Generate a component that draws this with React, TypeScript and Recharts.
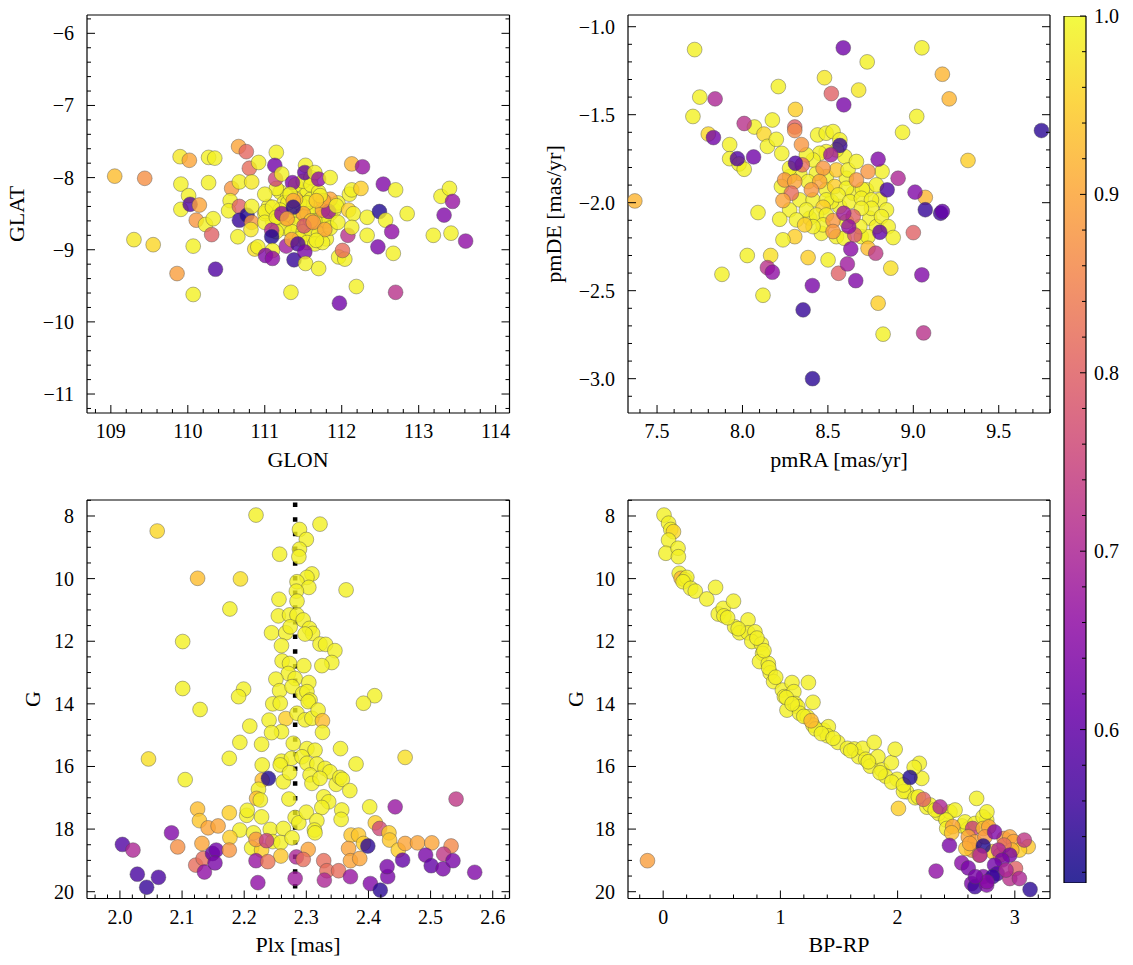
import React from 'react';
import { ScatterChart, Scatter, XAxis, YAxis, ReferenceLine, ComposedChart, Bar } from 'recharts';

const W = 1133;
const H = 965;
const FONT = '"Liberation Serif", "DejaVu Serif", "Times New Roman", serif';
const FS = 20;
const FS_TITLE = 22;

type Pt = [number, number, number];

// ---------- data: [x, y, membership probability] ----------
const glonGlat: Pt[] = [
  [111.2,-8.2,0.99],[111.3,-8.25,0.99],[111.45,-8.2,0.99],[111.55,-8.18,0.99],[111.6,-8.3,0.99],[111.7,-8.4,0.97],[111.8,-8.35,0.99],[111.85,-8.5,0.99],[111.25,-8.35,0.99],[111.35,-8.45,0.99],[111.5,-8.4,0.97],[111.45,-8.55,0.99],[111.55,-8.5,0.99],[111.65,-8.5,0.99],[111.75,-8.55,0.97],[111.2,-8.55,0.99],[111.3,-8.6,0.99],[111.4,-8.65,0.99],[111.55,-8.65,0.99],[111.7,-8.65,0.99],[111.8,-8.6,0.99],[111.25,-8.7,0.99],[111.35,-8.75,0.99],[111.5,-8.75,0.99],[111.6,-8.8,0.99],[111.7,-8.78,0.99],[111.8,-8.85,0.99],[111.45,-8.85,0.99],[111.55,-8.9,0.99],[111.65,-8.92,0.99],[111.75,-8.9,0.99],[111.4,-8.1,0.99],[111.5,-8.05,0.99],[111.6,-8.0,0.99],[111.15,-8.15,0.99],[111.05,-8.4,0.99],[111.1,-8.6,0.99],[111.15,-8.75,0.99],[111.9,-8.45,0.99],[111.95,-8.35,0.99],[111.6,-8.1,0.99],[111.7,-8.2,0.99],[111.45,-8.35,0.99],[111.3,-8.35,0.99],[111.65,-8.6,0.99],[111.85,-8.7,0.99],[111.55,-8.35,0.99],[111.2,-8.45,0.99],[111.0,-8.5,0.99],
  [111.75,-8.45,0.9],[111.85,-8.3,0.9],[111.5,-8.5,0.9],[111.6,-8.6,0.94],[111.4,-8.3,0.94],
  [109.05,-7.98,0.93],[109.44,-8.01,0.87],[109.30,-8.86,0.98],[109.55,-8.93,0.96],[109.86,-9.33,0.89],[109.90,-7.71,0.98],[110.02,-7.76,0.9],[109.91,-8.09,0.99],[110.01,-8.25,0.99],[109.91,-8.44,0.99],[110.03,-8.37,0.58],[110.15,-8.38,0.9],[110.11,-8.59,0.88],[110.27,-7.72,0.99],[110.35,-7.73,0.99],[110.27,-8.07,0.99],[110.23,-8.65,0.99],[110.33,-8.57,0.99],[110.31,-8.79,0.8],[110.07,-8.95,0.99],[110.36,-9.27,0.58],[110.07,-9.62,0.99],
  [110.66,-7.57,0.9],[110.76,-7.64,0.81],[110.80,-7.87,0.82],[110.92,-7.79,0.99],[110.57,-8.15,0.88],[110.67,-8.06,0.99],[110.83,-8.06,0.98],[110.55,-8.32,0.99],[110.53,-8.46,0.99],[110.67,-8.40,0.8],[110.67,-8.59,0.55],[110.77,-8.52,0.53],[110.83,-8.40,0.99],[110.83,-8.62,0.88],[110.82,-8.72,0.98],[110.65,-8.82,0.99],[110.87,-8.99,0.97],[110.91,-8.96,0.99],
  [111.15,-7.65,0.99],[111.13,-7.83,0.62],[111.14,-8.02,0.75],[111.22,-7.95,0.99],[111.00,-8.23,0.99],[111.01,-8.47,0.99],[111.10,-8.41,0.99],[111.00,-8.62,0.99],[111.15,-8.55,0.99],[111.09,-8.73,0.7],[111.09,-8.82,0.53],[111.10,-9.01,0.99],[111.01,-9.08,0.64],[111.10,-9.12,0.66],[111.22,-8.50,0.66],[111.28,-8.95,0.68],[111.35,-8.86,0.9],[111.36,-8.07,0.63],[111.33,-8.23,0.99],[111.37,-8.32,0.9],[111.37,-8.41,0.54],[111.29,-8.57,0.9],[111.43,-8.92,0.57],[111.38,-9.14,0.55],[111.34,-9.59,0.99],
  [111.53,-7.83,0.99],[111.52,-7.93,0.6],[111.65,-7.93,0.99],[111.70,-8.02,0.66],[111.51,-8.67,0.78],[111.63,-8.62,0.88],[111.52,-9.03,0.63],[111.53,-9.19,0.99],[111.70,-9.26,0.99],[111.83,-8.47,0.67],[111.85,-8.00,0.99],[111.76,-8.32,0.9],[111.72,-8.25,0.99],[111.78,-8.72,0.9],[111.67,-8.87,0.99],[111.67,-8.32,0.94],[111.93,-8.39,0.99],[111.95,-8.62,0.99],[112.08,-8.80,0.72],[111.96,-9.10,0.99],[112.04,-9.13,0.99],[112.01,-9.01,0.82],[111.97,-9.74,0.62],
  [112.13,-7.81,0.92],[112.27,-7.85,0.67],[112.10,-8.23,0.99],[112.13,-8.17,0.99],[112.09,-8.45,0.95],[112.15,-8.50,0.99],[112.13,-8.69,0.99],[112.25,-8.15,0.95],[112.19,-9.51,0.99],[112.33,-8.55,0.99],[112.33,-8.80,0.99],[112.49,-8.47,0.53],[112.47,-8.96,0.63],[112.54,-8.09,0.64],[112.57,-8.59,0.99],[112.65,-8.75,0.66],[112.70,-8.17,0.99],[112.67,-9.05,0.99],[112.70,-9.59,0.72],[112.85,-8.50,0.99],[113.19,-8.80,0.99],[113.29,-8.26,0.99],[113.40,-8.15,0.99],[113.33,-8.52,0.64],[113.42,-8.77,0.99],[113.44,-8.33,0.67],[113.61,-8.88,0.66],
];

const pmRaDe: Pt[] = [
  [8.335,-1.833,0.99],[8.608,-1.861,0.99],[8.491,-1.852,0.99],[8.433,-1.833,0.99],[8.276,-1.852,0.99],[8.726,-1.927,0.99],[8.648,-1.946,0.99],[8.804,-1.984,0.99],[8.843,-2.041,0.99],[8.569,-2.022,0.99],[8.521,-1.994,0.99],[8.394,-2.088,0.99],[8.276,-2.041,0.99],[8.745,-2.088,0.99],[8.784,-2.136,0.99],[8.55,-2.193,0.99],[8.462,-2.174,0.99],[8.696,-2.193,0.99],
  [7.71,-1.51,0.99],[7.80,-1.61,0.96],[7.925,-1.67,0.99],[7.925,-1.75,0.99],[7.98,-1.78,0.99],[8.01,-1.81,0.99],[8.07,-1.57,0.99],[8.126,-1.61,0.96],[8.146,-1.68,0.99],[8.175,-1.53,0.99],[8.198,-1.64,0.99],[8.23,-1.72,0.99],[8.31,-1.47,0.95],
  [8.44,-1.615,0.99],[8.49,-1.605,0.99],[8.53,-1.596,0.99],[8.57,-1.643,0.99],[8.599,-1.738,0.99],[8.55,-1.70,0.99],[8.49,-1.71,0.99],[8.452,-1.719,0.99],[8.413,-1.757,0.99],[8.374,-1.728,0.99],[8.276,-1.804,0.99],[8.55,-1.814,0.94],[8.618,-1.814,0.99],[8.667,-1.766,0.99],[8.817,-1.823,0.99],[8.384,-1.88,0.99],[8.702,-1.924,0.99],[8.784,-1.899,0.99],[8.228,-1.908,0.99],[8.335,-1.984,0.99],[8.491,-1.927,0.99],[8.54,-1.908,0.95],[8.608,-1.918,0.99],[8.413,-1.984,0.99],[8.491,-1.984,0.99],[8.56,-1.956,0.99],[8.628,-1.994,0.99],[8.696,-1.975,0.99],[8.755,-1.984,0.99],[8.755,-2.032,0.99],[8.696,-2.032,0.99],[8.472,-2.026,0.95],[8.374,-2.041,0.99],[8.316,-2.098,0.99],[8.218,-2.094,0.99],[8.091,-2.056,0.99],[8.433,-2.07,0.99],[8.491,-2.07,0.99],[8.608,-2.107,0.99],[8.814,-2.079,0.99],[8.853,-2.136,0.99],[8.882,-2.198,0.99],[8.735,-2.193,0.99],[8.472,-2.126,0.99],[8.413,-2.136,0.99],[8.364,-2.126,0.95],[8.306,-2.193,0.95],[8.237,-2.211,0.99],[8.595,-2.202,0.99],[8.687,-2.136,0.99],[8.735,-2.259,0.93],[8.868,-2.372,0.97],[8.028,-2.30,0.99],[8.165,-2.30,0.97],[7.88,-2.407,0.99],[8.384,-2.312,0.95],[8.501,-2.325,0.99],[8.12,-2.526,0.99],[8.794,-2.571,0.95],[8.823,-2.747,0.99],[8.937,-1.60,0.99],
  [7.72,-1.13,0.99],[7.75,-1.40,0.99],[8.21,-1.34,0.99],[8.48,-1.29,0.98],[8.68,-1.36,0.98],[8.73,-1.20,0.99],[9.05,-1.12,0.99],[9.17,-1.27,0.92],[9.21,-1.41,0.92],[7.37,-1.99,0.92],[9.32,-1.76,0.95],[9.07,-1.97,0.92],[9.02,-1.51,0.99],
  [8.306,-1.57,0.8],[8.306,-1.59,0.86],[8.345,-1.67,0.88],[8.35,-1.785,0.82],[8.472,-1.804,0.88],[8.735,-1.823,0.88],[8.247,-1.871,0.88],[8.306,-1.88,0.9],[8.452,-1.88,0.9],[8.667,-1.871,0.88],[8.286,-1.946,0.82],[8.237,-1.988,0.9],[8.403,-1.927,0.88],[8.648,-2.079,0.8],[8.53,-2.102,0.88],[8.657,-2.183,0.78],[8.53,-2.164,0.88],[8.562,-2.401,0.8],
  [7.84,-1.41,0.7],[7.83,-1.63,0.62],[7.97,-1.75,0.58],[8.01,-1.55,0.72],[8.065,-1.74,0.62],[8.31,-1.776,0.58],[8.57,-1.675,0.55],[8.517,-1.728,0.68],[8.794,-1.753,0.64],[8.911,-1.861,0.7],[8.847,-1.927,0.57],[8.593,-2.06,0.68],[8.804,-2.168,0.6],[8.622,-2.136,0.66],[8.634,-2.263,0.65],[8.78,-2.287,0.73],[8.146,-2.369,0.72],[8.175,-2.395,0.66],[8.614,-2.348,0.68],[8.663,-2.443,0.64],[8.409,-2.471,0.63],[8.355,-2.609,0.55],
  [8.52,-1.38,0.8],[8.59,-1.12,0.62],[8.593,-1.444,0.63],[9.75,-1.59,0.54],[8.41,-3.00,0.54],[9.16,-2.06,0.56],[9.17,-2.05,0.6],[9.07,-2.04,0.55],[9.05,-2.41,0.64],[9.06,-2.74,0.72],[9.01,-1.94,0.64],[9.00,-2.17,0.8],
];

const plxG: Pt[] = [
  [2.060,8.48,0.96],[2.219,7.97,0.99],[2.289,8.43,0.99],[2.322,8.26,0.99],[2.300,8.75,0.99],[2.289,9.06,0.99],[2.257,9.22,0.99],[2.288,9.30,0.99],[2.125,9.99,0.93],[2.194,10.01,0.97],[2.309,9.85,0.99],[2.301,9.96,0.99],[2.285,10.10,0.99],[2.304,10.28,0.99],[2.284,10.40,0.99],[2.364,10.36,0.99],[2.256,10.66,0.99],[2.285,10.72,0.99],[2.177,10.97,0.99],[2.255,11.19,0.99],[2.273,11.16,0.99],[2.285,11.16,0.99],[2.295,11.32,0.99],[2.305,11.59,0.99],[2.310,11.75,0.99],[2.298,11.77,0.99],[2.244,11.73,0.99],[2.267,11.73,0.99],[2.274,11.54,0.99],[2.101,12.01,0.99],[2.260,12.14,0.99],[2.322,12.09,0.99],[2.331,12.10,0.99],[2.346,12.30,0.99],[2.341,12.68,0.99],[2.325,12.78,0.99],[2.261,12.63,0.99],[2.273,12.71,0.99],[2.296,12.78,0.99],[2.271,13.03,0.99],[2.251,13.21,0.99],[2.282,13.19,0.99],[2.304,13.32,0.99],[2.101,13.51,0.99],[2.199,13.53,0.99],[2.191,13.77,0.99],[2.257,13.58,0.99],[2.277,13.45,0.99],[2.294,13.67,0.99],[2.301,13.61,0.99],[2.306,13.88,0.99],[2.410,13.74,0.99],
  [2.246,14.00,0.99],[2.258,13.98,0.99],[2.303,13.93,0.99],[2.392,13.98,0.99],[2.129,14.18,0.99],[2.209,14.71,0.99],[2.240,14.52,0.99],[2.267,14.47,0.95],[2.285,14.30,0.99],[2.298,14.51,0.99],[2.309,14.46,0.99],[2.319,14.20,0.99],[2.326,14.54,0.93],[2.326,14.91,0.99],[2.260,14.89,0.99],[2.244,14.92,0.99],[2.279,15.26,0.99],[2.193,15.23,0.99],[2.228,15.29,0.99],[2.301,15.43,0.99],[2.314,15.48,0.99],[2.355,15.43,0.99],[2.260,15.83,0.99],[2.276,15.74,0.99],[2.293,15.69,0.99],[2.046,15.76,0.97],[2.176,15.74,0.99],[2.229,15.95,0.99],[2.301,15.90,0.99],[2.317,15.92,0.99],[2.330,16.06,0.99],[2.338,16.17,0.99],[2.380,15.92,0.99],[2.459,15.71,0.97],[2.105,16.42,0.99],[2.229,16.43,0.93],[2.258,15.95,0.99],[2.263,16.49,0.99],[2.273,16.20,0.99],[2.306,16.27,0.99],[2.309,16.54,0.99],[2.322,16.38,0.99],[2.348,16.57,0.99],[2.354,16.35,0.99],[2.358,16.41,0.99],[2.370,16.77,0.99],[2.223,16.73,0.99],[2.220,17.02,0.93],[2.226,17.07,0.99],[2.272,17.04,0.99],[2.328,16.97,0.99],[2.336,17.13,0.99],[2.325,17.31,0.99],[2.357,17.39,0.99],[2.402,17.29,0.99],[2.282,17.63,0.99],[2.288,17.80,0.99],[2.300,17.46,0.99],[2.317,17.73,0.99],[2.356,17.69,0.99],[2.228,17.61,0.99],[2.204,17.56,0.99],[2.205,17.40,0.99],[2.176,17.48,0.95],[2.125,17.36,0.93],[2.128,17.73,0.94],[2.193,18.03,0.99],[2.215,18.12,0.99],[2.242,18.01,0.99],[2.263,17.98,0.99],[2.246,18.40,0.99],[2.259,18.43,0.99],[2.277,18.28,0.99],[2.212,18.60,0.99],[2.228,18.67,0.95],[2.259,18.86,0.94],[2.313,18.03,0.99],[2.314,18.12,0.99],
  [2.239,16.38,0.53],[2.142,17.96,0.9],[2.158,17.90,0.9],[2.177,18.27,0.95],[2.219,18.33,0.88],[2.236,18.37,0.74],[2.303,18.65,0.9],[2.372,18.19,0.94],[2.384,18.19,0.94],[2.392,18.46,0.95],[2.411,17.80,0.95],[2.418,17.98,0.76],[2.433,18.12,0.95],[2.434,18.35,0.94],[2.443,17.29,0.67],[2.448,18.67,0.95],[2.459,18.46,0.9],[2.479,18.44,0.9],[2.502,18.44,0.9],[2.533,18.54,0.86],[2.541,17.04,0.73],[2.368,18.62,0.9],[2.371,19.01,0.9],[2.386,18.94,0.9],[2.399,18.54,0.54],
  [2.004,18.49,0.58],[2.021,18.67,0.7],[2.028,19.44,0.57],[2.062,19.54,0.57],[2.043,19.86,0.55],[2.083,18.12,0.64],[2.093,18.57,0.87],[2.122,19.15,0.82],[2.134,18.94,0.82],[2.136,19.37,0.66],[2.149,18.78,0.6],[2.155,18.67,0.62],[2.153,19.08,0.63],[2.176,18.67,0.88],[2.132,18.46,0.9],[2.219,19.01,0.67],[2.222,19.71,0.66],[2.238,19.04,0.83],[2.284,18.89,0.7],[2.295,18.97,0.82],[2.282,19.58,0.68],[2.328,19.01,0.82],[2.333,19.33,0.82],[2.352,19.33,0.82],[2.329,19.63,0.7],[2.371,19.52,0.67],[2.403,19.74,0.64],[2.419,19.95,0.54],[2.431,19.52,0.63],[2.430,19.20,0.63],[2.455,18.99,0.6],[2.492,18.83,0.63],[2.501,19.17,0.6],[2.521,18.80,0.73],[2.520,19.27,0.63],[2.536,19.01,0.63],[2.571,19.38,0.64],
];

const colorG: Pt[] = [
  [0.007,7.97,0.99],[0.046,8.23,0.99],[0.065,8.43,0.99],[0.088,8.50,0.96],[0.046,8.77,0.99],[0.023,9.19,0.99],[0.127,9.03,0.99],[0.130,9.30,0.99],[0.137,9.83,0.99],[0.153,9.99,0.92],[0.186,10.04,0.99],[0.202,9.96,0.99],[0.170,10.10,0.99],[0.235,10.31,0.99],[0.274,10.40,0.99],[0.372,10.65,0.99],[0.447,10.28,0.99],[0.470,11.13,0.99],[0.512,10.95,0.99],[0.518,11.19,0.99],[0.600,10.72,0.99],[0.610,11.54,0.99],[0.652,11.73,0.99],[0.724,11.32,0.99],[0.724,11.73,0.99],[0.783,11.70,0.99],[0.756,12.01,0.99],[0.838,12.09,0.99],[0.848,12.39,0.99],[0.822,12.65,0.99],[0.897,12.71,0.99],[0.913,13.01,0.99],[0.942,13.29,0.99],[1.017,13.56,0.99],[1.034,13.77,0.99],[1.056,14.20,0.99],[1.099,13.32,0.99],[1.115,13.61,0.99],[1.125,13.99,0.99],[1.148,14.09,0.99],[1.164,14.30,0.99],[1.239,13.32,0.99],[1.278,13.95,0.99],[1.229,14.41,0.99],[1.278,14.68,0.99],[1.369,14.84,0.99],[1.409,14.73,0.99],[1.402,15.02,0.99],[1.490,15.23,0.99],[1.572,15.42,0.99],[1.630,15.44,0.99],[1.669,15.69,0.99],[1.702,15.42,0.99],[1.728,15.77,0.99],[1.767,15.99,0.99],[1.800,15.23,0.99],[1.832,15.69,0.99],[1.865,16.11,0.99],[1.898,16.31,0.99],[1.947,15.88,0.99],[1.979,15.45,0.99],[1.995,16.41,0.99],[2.077,16.81,0.99],[2.185,15.90,0.99],[2.403,17.61,0.99],
  [0.55,11.25,0.99],[0.64,11.6,0.99],[0.8,11.9,0.99],[0.86,12.3,0.99],[0.9,12.85,0.99],[0.96,13.15,0.99],[1.05,13.8,0.99],[1.1,14.0,0.99],[1.2,14.4,0.99],[1.3,14.8,0.99],[1.35,14.95,0.99],[1.45,15.1,0.99],[1.6,15.5,0.99],[1.75,15.85,0.99],[1.85,16.2,0.99],[1.95,16.5,0.99],[2.05,16.8,0.99],[2.15,17.0,0.99],[2.25,17.3,0.99],[2.35,17.5,0.99],[2.55,17.9,0.99],[2.6,18.0,0.99],
  [1.262,14.54,0.92],
  [2.206,16.38,0.99],[2.141,16.03,0.99],[2.050,16.59,0.99],[2.007,17.34,0.95],[2.177,16.97,0.99],[2.277,17.23,0.99],[2.32,17.39,0.99],[2.447,17.45,0.99],[2.49,17.39,0.99],[2.413,17.71,0.99],[2.575,17.77,0.99],[2.674,17.02,0.99],[2.66,17.82,0.99],[2.419,17.98,0.99],[2.76,17.71,0.99],[2.729,17.61,0.99],[2.762,17.45,0.99],
  [2.106,16.35,0.53],[2.22,17.05,0.8],[2.362,17.29,0.7],[2.47,17.92,0.9],[2.461,18.12,0.93],[2.64,17.98,0.74],[2.603,18.25,0.9],[2.731,17.98,0.93],[2.66,18.41,0.9],[2.632,18.67,0.88],[2.582,18.62,0.94],[2.615,18.46,0.9],[2.778,17.93,0.9],[2.745,18.25,0.88],[2.908,18.30,0.88],[2.957,18.25,0.9],[2.99,18.40,0.9],[3.114,18.56,0.94],[3.039,18.67,0.95],[2.81,18.72,0.95],[2.697,18.83,0.9],[2.876,18.83,0.9],[2.974,18.67,0.92],[-0.134,19.01,0.89],
  [2.731,18.54,0.53],[2.703,18.83,0.7],[2.442,18.52,0.63],[2.547,19.08,0.65],[2.603,19.24,0.63],[2.328,19.34,0.66],[2.632,19.74,0.63],[2.66,19.84,0.56],[2.731,19.52,0.64],[2.76,19.79,0.64],[2.827,18.09,0.64],[3.081,18.35,0.73],[2.908,18.51,0.82],[2.86,18.67,0.7],[2.957,18.83,0.63],[2.892,18.99,0.63],[2.827,19.15,0.62],[2.850,19.42,0.58],[2.81,19.52,0.55],[2.762,19.68,0.65],[2.664,19.52,0.63],[2.957,19.58,0.72],[3.006,19.26,0.8],[3.039,19.58,0.7],[2.925,19.31,0.7],[3.13,19.93,0.54],
];

// ---------- axes / ticks ----------
const glonTicks = [109, 110, 111, 112, 113, 114];
const glatTicks = [-11, -10, -9, -8, -7, -6];
const pmraTicks = [7.5, 8.0, 8.5, 9.0, 9.5];
const pmdeTicks = [-3.0, -2.5, -2.0, -1.5, -1.0];
const plxTicks = [2.0, 2.1, 2.2, 2.3, 2.4, 2.5, 2.6];
const gTicks = [8, 10, 12, 14, 16, 18, 20];
const bprpTicks = [0, 1, 2, 3];
const probTicks = [0.6, 0.7, 0.8, 0.9, 1.0];
const PLX_MEAN = 2.282;
const PROB_MIN = 0.514;
const PROB_MAX = 1.0;
const colorbarData = [{ name: 'prob', range: [PROB_MIN, PROB_MAX] }];

const PLASMA = ['#0d0887', '#41049d', '#6a00a8', '#8f0da4', '#b12a90', '#cc4778', '#e16462', '#f2844b', '#fca636', '#fcce25', '#f0f921'];

function hexRgb(h: string) {
  return [parseInt(h.slice(1, 3), 16), parseInt(h.slice(3, 5), 16), parseInt(h.slice(5, 7), 16)];
}
function plasma(t: number) {
  const c = Math.max(0, Math.min(1, t)) * 10;
  const i = Math.min(9, Math.floor(c));
  const f = c - i;
  const a = hexRgb(PLASMA[i]);
  const b = hexRgb(PLASMA[i + 1]);
  const m = a.map((v, k) => Math.round(v + (b[k] - v) * f));
  return `rgb(${m[0]},${m[1]},${m[2]})`;
}
function probColor(p: number) {
  return plasma((p - PROB_MIN) / (PROB_MAX - PROB_MIN));
}

function minorTicks(domain: number[], step: number, majors: number[]) {
  const out: number[] = [];
  const s = Math.ceil(domain[0] / step - 1e-9);
  const e = Math.floor(domain[1] / step + 1e-9);
  for (let k = s; k <= e; k++) {
    const v = +(k * step).toFixed(6);
    if (!majors.some((m) => Math.abs(m - v) < 1e-6)) out.push(v);
  }
  return out;
}

const fmtInt = (v: number) => (v < 0 ? '\u2212' : '') + Math.abs(v).toFixed(0);
const fmt1 = (v: number) => (v < 0 ? '\u2212' : '') + Math.abs(v).toFixed(1);

const MAJ = 8;
const MIN = 4;
const textStyle = { fontFamily: FONT, fontSize: FS, fill: '#000', stroke: 'none' } as const;

function makeTick(side: string, majors: number[], fmt: (v: number) => string, withLabel: boolean, maj = MAJ, min = MIN) {
  return (props: any) => {
    const { x, y, payload } = props;
    const v = payload.value;
    const isMajor = majors.some((m) => Math.abs(m - v) < 1e-6);
    const len = isMajor ? maj : min;
    let line: any;
    let label: any = null;
    if (side === 'bottom') {
      line = <line x1={x} x2={x} y1={y} y2={y - len} />;
      if (withLabel && isMajor) label = <text x={x} y={y + 18} textAnchor="middle" dominantBaseline="central" {...textStyle}>{fmt(v)}</text>;
    } else if (side === 'top') {
      line = <line x1={x} x2={x} y1={y} y2={y + len} />;
    } else if (side === 'left') {
      line = <line x1={x} x2={x + len} y1={y} y2={y} />;
      if (withLabel && isMajor) label = <text x={x - 13} y={y} textAnchor="end" dominantBaseline="central" {...textStyle}>{fmt(v)}</text>;
    } else {
      line = <line x1={x} x2={x - len} y1={y} y2={y} />;
      if (withLabel && isMajor) label = <text x={x + 8} y={y} textAnchor="start" dominantBaseline="central" {...textStyle}>{fmt(v)}</text>;
    }
    return (
      <g>
        <g stroke="#000" strokeWidth={1}>{line}</g>
        {label}
      </g>
    );
  };
}

const dot = (props: any) => {
  const { cx, cy } = props;
  const p = props.payload ? props.payload.p : props.p;
  if (cx == null || cy == null) return <g />;
  return <circle cx={cx} cy={cy} r={7.4} fill={probColor(p)} fillOpacity={0.8} stroke="#4a4a4a" strokeOpacity={0.7} strokeWidth={0.6} />;
};

type PanelProps = {
  rect: { left: number; top: number; right: number; bottom: number };
  data: Pt[];
  xDomain: number[];
  yDomain: number[];
  reversed?: boolean;
  xMajors: number[];
  xMinorStep: number;
  yMajors: number[];
  yMinorStep: number;
  xFmt: (v: number) => string;
  yFmt: (v: number) => string;
  children?: any;
};

function Panel(props: PanelProps) {
  const { rect, data, xDomain, yDomain, reversed, xMajors, xMinorStep, yMajors, yMinorStep, xFmt, yFmt, children } = props;
  const margin = { top: rect.top - 1, left: rect.left - 1, right: W - rect.right - 1, bottom: H - rect.bottom - 1 };
  const xTicks = [...xMajors, ...minorTicks(xDomain, xMinorStep, xMajors)];
  const yTicks = [...yMajors, ...minorTicks(yDomain, yMinorStep, yMajors)];
  const pts = data.map(([x, y, p]) => ({ x, y, p }));
  const axisLine = { stroke: '#000', strokeWidth: 1.2 };
  return (
    <div style={{ position: 'absolute', left: 0, top: 0 }}>
      <ScatterChart width={W} height={H} margin={margin}>
        <XAxis xAxisId="b" orientation="bottom" type="number" dataKey="x" domain={xDomain} allowDataOverflow ticks={xTicks} interval={0} height={1} tickSize={0} tickMargin={0} tickLine={false} axisLine={axisLine} tick={makeTick('bottom', xMajors, xFmt, true)} />
        <XAxis xAxisId="t" orientation="top" type="number" domain={xDomain} allowDataOverflow ticks={xTicks} interval={0} height={1} tickSize={0} tickMargin={0} tickLine={false} axisLine={axisLine} tick={makeTick('top', xMajors, xFmt, false)} />
        <YAxis yAxisId="l" orientation="left" type="number" dataKey="y" domain={yDomain} reversed={reversed} allowDataOverflow ticks={yTicks} interval={0} width={1} tickSize={0} tickMargin={0} tickLine={false} axisLine={axisLine} tick={makeTick('left', yMajors, yFmt, true)} />
        <YAxis yAxisId="r" orientation="right" type="number" domain={yDomain} reversed={reversed} allowDataOverflow ticks={yTicks} interval={0} width={1} tickSize={0} tickMargin={0} tickLine={false} axisLine={axisLine} tick={makeTick('right', yMajors, yFmt, false)} />
        <Scatter xAxisId="b" yAxisId="l" data={pts} isAnimationActive={false} shape={dot} />
        {children}
      </ScatterChart>
    </div>
  );
}

const CB_RECT = { left: 1064, top: 16, right: 1086, bottom: 883 };

// colour bar body (drawn first)
function ColorbarBody() {
  const margin = { top: CB_RECT.top, left: CB_RECT.left, right: W - CB_RECT.right, bottom: H - CB_RECT.bottom };
  return (
    <div style={{ position: 'absolute', left: 0, top: 0 }}>
      <ComposedChart width={W} height={H} margin={margin} data={colorbarData} barCategoryGap={0} barGap={0}>
        <XAxis xAxisId="cbx" type="category" dataKey="name" hide />
        <YAxis yAxisId="cb" type="number" domain={[PROB_MIN, PROB_MAX]} allowDataOverflow hide />
        <Bar xAxisId="cbx" yAxisId="cb" dataKey="range" fill="url(#cbGrad)" fillOpacity={0.85} stroke="#000" strokeWidth={1.2} isAnimationActive={false} />
      </ComposedChart>
    </div>
  );
}

// colour bar ticks + labels (drawn on top of the body)
function ColorbarAxis() {
  const margin = { top: CB_RECT.top, left: CB_RECT.left, right: W - CB_RECT.right - 1, bottom: H - CB_RECT.bottom };
  const ticks = [...probTicks, ...minorTicks([PROB_MIN, PROB_MAX], 0.02, probTicks)];
  return (
    <div style={{ position: 'absolute', left: 0, top: 0 }}>
      <ComposedChart width={W} height={H} margin={margin}>
        <YAxis yAxisId="cb" orientation="right" type="number" domain={[PROB_MIN, PROB_MAX]} allowDataOverflow ticks={ticks} interval={0} width={1} tickSize={0} tickMargin={0} tickLine={false} axisLine={false} tick={makeTick('right', probTicks, fmt1, true, 6, 4)} />
      </ComposedChart>
    </div>
  );
}

export default function App() {
  const titles = { fontFamily: FONT, fontSize: FS_TITLE, fill: '#000' };
  return (
    <div style={{ position: 'absolute', left: 0, top: 0, width: W, height: H, background: '#fff' }}>
      <svg width={W} height={H} style={{ position: 'absolute', left: 0, top: 0, pointerEvents: 'none' }}>
        <defs>
          <linearGradient id="cbGrad" x1="0" y1="1" x2="0" y2="0">
            {PLASMA.map((c, i) => (
              <stop key={i} offset={i / 10} stopColor={c} />
            ))}
          </linearGradient>
        </defs>
        <g {...titles}>
          <text x={298} y={459} textAnchor="middle" dominantBaseline="central">GLON</text>
          <text transform="translate(16,214) rotate(-90)" textAnchor="middle" dominantBaseline="central">GLAT</text>
          <text x={839} y={459} textAnchor="middle" dominantBaseline="central">pmRA [mas/yr]</text>
          <text transform="translate(553,214) rotate(-90)" textAnchor="middle" dominantBaseline="central">pmDE [mas/yr]</text>
          <text x={298} y={944} textAnchor="middle" dominantBaseline="central">Plx [mas]</text>
          <text transform="translate(32,699) rotate(-90)" textAnchor="middle" dominantBaseline="central">G</text>
          <text x={839} y={944} textAnchor="middle" dominantBaseline="central">BP-RP</text>
          <text transform="translate(575,699) rotate(-90)" textAnchor="middle" dominantBaseline="central">G</text>
        </g>
      </svg>
      <Panel rect={{ left: 87, top: 15, right: 509.5, bottom: 413 }} data={glonGlat} xDomain={[108.69, 114.18]} yDomain={[-11.263, -5.746]} xMajors={glonTicks} xMinorStep={0.2} yMajors={glatTicks} yMinorStep={0.2} xFmt={fmtInt} yFmt={fmtInt} />
      <Panel rect={{ left: 628, top: 15, right: 1050, bottom: 413 }} data={pmRaDe} xDomain={[7.33, 9.80]} yDomain={[-3.195, -0.9335]} xMajors={pmraTicks} xMinorStep={0.1} yMajors={pmdeTicks} yMinorStep={0.1} xFmt={fmt1} yFmt={fmt1} />
      <Panel rect={{ left: 87, top: 500, right: 509.5, bottom: 898.5 }} data={plxG} xDomain={[1.947, 2.627]} yDomain={[7.489, 20.217]} reversed xMajors={plxTicks} xMinorStep={0.02} yMajors={gTicks} yMinorStep={0.5} xFmt={fmt1} yFmt={fmtInt}>
        <ReferenceLine xAxisId="b" yAxisId="l" x={PLX_MEAN} stroke="#000" strokeWidth={4.5} strokeDasharray="4.5 10.17" strokeDashoffset={4.62} ifOverflow="visible" />
      </Panel>
      <Panel rect={{ left: 628, top: 500, right: 1050, bottom: 898.5 }} data={colorG} xDomain={[-0.3, 3.3]} yDomain={[7.489, 20.217]} reversed xMajors={bprpTicks} xMinorStep={0.2} yMajors={gTicks} yMinorStep={0.5} xFmt={fmtInt} yFmt={fmtInt} />
      <ColorbarBody />
      <ColorbarAxis />
    </div>
  );
}
